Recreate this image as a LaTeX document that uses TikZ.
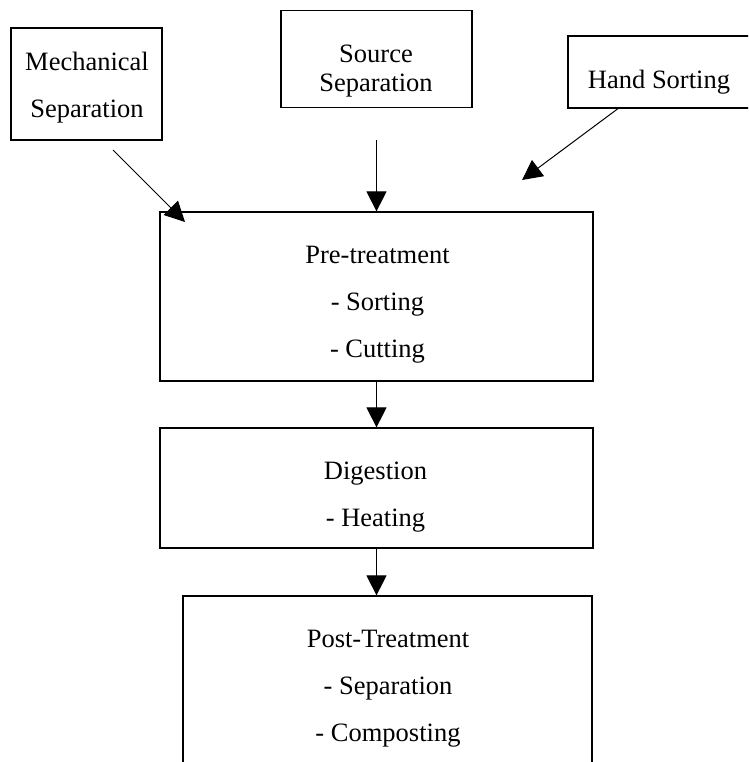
\documentclass[tikz,border=0pt]{standalone}
\usepackage{fontspec}
\setmainfont{Liberation Serif}
\usetikzlibrary{arrows.meta}

\begin{document}
\begin{tikzpicture}[x=1pt, y=-1pt, every node/.style={inner sep=0pt},
  box/.style={draw, rectangle, line width=1.2pt},
  txt/.style={align=center, font=\fontsize{26.5}{47}\selectfont},
  flow/.style={line width=1pt, -{Triangle[width=20pt, length=20pt]}}]
\useasboundingbox (0,0) rectangle (748,762);
\clip (0,0) rectangle (748,762);

% boxes
\node[box, minimum width=151pt, minimum height=112pt] (mech) at (86.5,84) {};
\node[box, minimum width=191pt, minimum height=97pt] (src) at (376.5,59) {};
\node[box, minimum width=200pt, minimum height=72pt] (hand) at (668,72) {};
\node[box, minimum width=433pt, minimum height=169pt] (pre) at (376.5,296.5) {};
\node[box, minimum width=433pt, minimum height=120pt] (dig) at (376.5,488) {};
\node[box, minimum width=409pt, minimum height=200pt] (post) at (387.5,696) {};

% texts
\node[txt] (mech-t) at (87,87.6) {Mechanical\\Separation};
\node[txt, font=\fontsize{26.5}{29}\selectfont] (src-t) at (376,70.8) {Source\\Separation};
\node[txt] (hand-t) at (659,82) {Hand Sorting};
\node[txt] (pre-t) at (377.5,304.7) {Pre-treatment\\- Sorting\\- Cutting};
\node[txt] (dig-t) at (375.5,497) {Digestion\\- Heating};
\node[txt] (post-t) at (388,688.3) {Post-Treatment\\- Separation\\- Composting};

\coordinate (mech-a) at (113,150);
\coordinate (mech-b) at (185,222);
\coordinate (hand-b) at (522,180);

\draw[flow] (mech-a) -- (mech-b);
\draw[flow, shorten <=32pt] (src.south) -- (src.south |- pre.north);
\draw[flow] ([xshift=-50pt]hand.south) -- (hand-b);
\draw[flow] (pre) -- (dig);
\draw[flow] (dig.south) -- (dig.south |- post.north);
\end{tikzpicture}
\end{document}
